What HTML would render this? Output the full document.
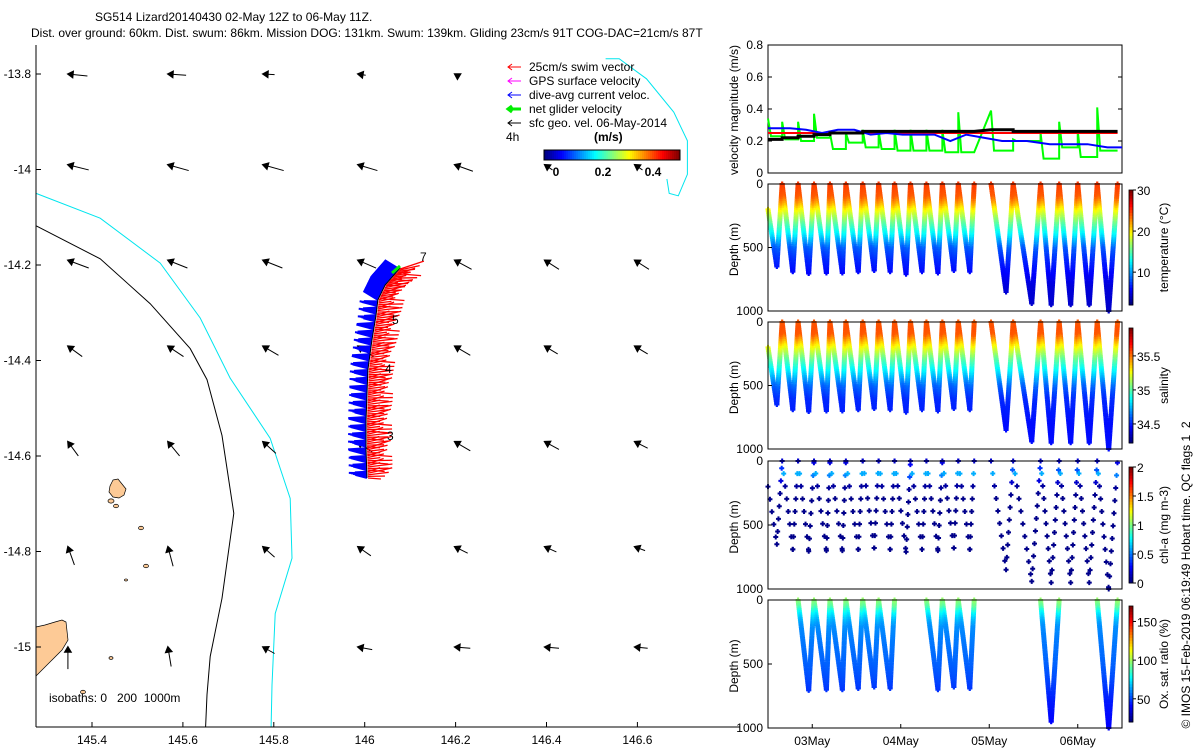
<!DOCTYPE html>
<html><head><meta charset="utf-8"><style>
html,body{margin:0;padding:0;background:#fff;}
svg{display:block;font-family:"Liberation Sans",sans-serif;}
</style></head><body>
<svg id="fig" width="1200" height="750" viewBox="0 0 1200 750">
<g id="map"></g>
<g id="right"></g>
</svg>
<script>
// ---------------- DATA ----------------
const mapLonTicks=[145.4,145.6,145.8,146,146.2,146.4,146.6];
const mapLatTicks=[-13.8,-14,-14.2,-14.4,-14.6,-14.8,-15];
const trackLon=[146.005,146.003,146.003,146.005,146.007,146.016,146.025,146.029,146.045,146.078];
const trackLat=[-14.646,-14.587,-14.525,-14.472,-14.420,-14.357,-14.305,-14.273,-14.242,-14.206];
const cyanLon=[145.277,145.418,145.55,145.638,145.704,145.792,145.836,145.840,145.803,145.796,145.794];
const cyanLat=[-14.05,-14.102,-14.196,-14.311,-14.437,-14.563,-14.689,-14.814,-14.930,-15.08,-15.17];
const blackLon=[145.277,145.418,145.528,145.616,145.653,145.686,145.712,145.686,145.660,145.653,145.650];
const blackLat=[-14.118,-14.187,-14.281,-14.375,-14.44,-14.557,-14.72,-14.898,-15.02,-15.10,-15.17];
const reefLon=[146.53,146.56,146.62,146.68,146.71,146.71,146.69,146.67,146.665];
const reefLat=[-13.768,-13.768,-13.81,-13.88,-13.94,-14.01,-14.055,-14.05,-14.02];
const arrowLon=[145.347,145.567,145.776,145.985,146.198,146.396,146.594];
const arrowLat=[-13.80,-13.99,-14.19,-14.37,-14.57,-14.79,-15.0];
const arrowU=[[-0.30,-0.28,-0.18,-0.12,-0.05,null,null],
 [-0.32,-0.32,-0.32,-0.30,-0.28,-0.12,-0.12],
 [-0.32,-0.30,-0.30,-0.28,-0.26,-0.22,-0.22],
 [-0.22,-0.24,-0.24,-0.24,-0.24,-0.20,-0.20],
 [-0.16,-0.18,-0.20,-0.22,-0.24,-0.22,-0.20],
 [-0.10,-0.08,-0.18,-0.20,-0.20,-0.18,-0.16],
 [0.0,-0.05,-0.18,-0.22,-0.24,-0.22,-0.20]];
const arrowV=[[0.03,0.02,0.01,0.02,0.03,null,null],
 [0.08,0.09,0.09,0.09,0.10,0.08,0.08],
 [0.12,0.12,0.12,0.12,0.14,0.14,0.14],
 [0.16,0.16,0.14,0.16,0.14,0.12,0.12],
 [0.22,0.22,0.18,0.16,0.14,0.12,0.10],
 [0.28,0.30,0.16,0.14,0.10,0.08,0.06],
 [0.34,0.30,0.10,0.04,0.02,0.02,0.02]];
// right panels
const dayTicks=["03May","04May","05May","06May"];
const diveStart=[0.00,0.16,0.34,0.52,0.70,0.88,1.07,1.25,1.43,1.61,1.79,1.97,2.15,2.52,2.77,3.08,3.29,3.50,3.72];
const diveBottom=[0.10,0.28,0.46,0.66,0.84,1.02,1.20,1.38,1.56,1.74,1.92,2.10,2.28,2.69,2.98,3.20,3.42,3.63,3.85];
const diveEnd=[0.16,0.34,0.52,0.70,0.88,1.07,1.25,1.43,1.61,1.79,1.97,2.15,2.33,2.77,3.08,3.29,3.50,3.72,3.95];
const diveDepth=[650,690,705,700,700,690,680,690,710,690,700,680,690,850,940,950,950,950,1000];
const oxDives=[2,3,4,5,6,7,10,11,12,15,18];
const profDepth=[0,50,100,150,200,300,400,500,600,800,1000];
const tempProf=[25,24.5,24,22,19.5,15.5,12,8,6.5,4.5,4];
const salProf=[35.55,35.57,35.55,35.4,35.25,35.0,34.8,34.6,34.5,34.45,34.45];
const chlProf=[0.15,0.3,0.6,0.2,0.05,0.02,0.02,0.02,0.02,0.02,0.02];
const oxProf=[98,90,75,66,60,57,55,53,50,42,38];
const velRed=[0.25,0.25,0.25,0.25,0.25,0.25,0.25,0.25,0.25,0.25,0.25,0.25,0.25,0.25,0.25,0.25,0.25,0.25,0.25];
const velBlack=[0.21,0.22,0.23,0.24,0.25,0.25,0.26,0.26,0.26,0.26,0.26,0.26,0.26,0.27,0.26,0.26,0.26,0.26,0.26];
const velBlue=[0.28,0.28,0.27,0.25,0.27,0.27,0.24,0.25,0.24,0.24,0.24,0.20,0.24,0.20,0.20,0.18,0.18,0.18,0.16];
const velGreen=[0.23,0.21,0.20,0.22,0.15,0.19,0.16,0.15,0.14,0.14,0.14,0.13,0.13,0.14,0.20,0.09,0.16,0.10,0.14];
const velGreenPeak=[0.34,0.32,0.32,0.37,0.25,0.25,0.27,0.26,0.27,0.27,0.27,0.27,0.38,0.39,0.21,0.25,0.32,0.26,0.41];
const velTicks=[0,0.2,0.4,0.6,0.8];
const depthTicks=[0,500,1000];

// ---------------- HELPERS ----------------
const NS="http://www.w3.org/2000/svg";
function mk(parent,tag,attrs,text){const e=document.createElementNS(NS,tag);for(const k in attrs)e.setAttribute(k,attrs[k]);if(text!==undefined)e.textContent=text;parent.appendChild(e);return e;}
function jet(t){t=Math.max(0,Math.min(1,t));const r=Math.max(0,Math.min(1,1.5-Math.abs(4*t-3))),g=Math.max(0,Math.min(1,1.5-Math.abs(4*t-2))),b=Math.max(0,Math.min(1,1.5-Math.abs(4*t-1)));return `rgb(${Math.round(r*255)},${Math.round(g*255)},${Math.round(b*255)})`;}
function interp(xs,ys,x){if(x<=xs[0])return ys[0];for(let i=1;i<xs.length;i++){if(x<=xs[i]){const f=(x-xs[i-1])/(xs[i]-xs[i-1]);return ys[i-1]+f*(ys[i]-ys[i-1]);}}return ys[ys.length-1];}
const mapG=document.getElementById('map'), rG=document.getElementById('right'), fig=document.getElementById('fig');
const lonX=l=>92+(l-145.4)*454.5;
const latY=l=>74+(-13.8-l)*477.5;

// ---------------- TITLE ----------------
let t=mk(fig,'text',{x:95,y:21,'font-size':12},'SG514 Lizard20140430 02-May 12Z to 06-May 11Z.');

t=mk(fig,'text',{x:31,y:37,'font-size':12},'Dist. over ground: 60km. Dist. swum: 86km. Mission DOG: 131km. Swum: 139km. Gliding 23cm/s 91T COG-DAC=21cm/s 87T');


// ---------------- MAP ----------------
let p=mk(mapG,'path',{d:'M36,627 L45,625 L55,622 L62,620 L66,622 L68,640 L62,650 L50,662 L40,672 L36,676 Z',fill:'#fdca96',stroke:'#000','stroke-width':0.7});

p=mk(mapG,'path',{d:'M113,480 L118,479 L122,484 L126,489 L124,495 L119,498 L113,497 L109,492 L110,486 Z',fill:'#fdca96',stroke:'#000','stroke-width':0.7});

[[111,501,3],[116,506,2.5],[141,528,2.5],[146,566,2.5],[126,580,1.5],[111,658,2],[83,692,2.5]].forEach(c=>{
 const e=mk(mapG,'ellipse',{cx:c[0],cy:c[1],rx:c[2],ry:c[2]*0.7,fill:'#fdca96',stroke:'#000','stroke-width':0.7});
 });
function polyline(lons,lats,color,name){const pts=lons.map((l,i)=>lonX(l).toFixed(1)+','+Math.min(727,latY(lats[i])).toFixed(1)).join(' ');
 const e=mk(mapG,'polyline',{points:pts,fill:'none',stroke:color,'stroke-width':1});}
polyline(cyanLon,cyanLat,'#00e5ee','isobath-200m');
polyline(blackLon,blackLat,'#000','isobath-1000m-black');
polyline(reefLon,reefLat,'#00e5ee','reef-isobath');
function drawArrow(g,hx,hy,tx,ty,col,hs,name){
 const l=mk(g,'line',{x1:hx,y1:hy,x2:tx,y2:ty,stroke:col,'stroke-width':1});
 
 const dx=hx-tx,dy=hy-ty,L=Math.hypot(dx,dy)||1,ux=dx/L,uy=dy/L;
 const pts=[[hx,hy],[hx-ux*hs-uy*hs*0.6,hy-uy*hs+ux*hs*0.6],[hx-ux*hs+uy*hs*0.6,hy-uy*hs-ux*hs*0.6]];
 const h=mk(g,'polygon',{points:pts.map(q=>q.join(',')).join(' '),fill:col,stroke:col,'stroke-width':1.5});
 }
for(let r=0;r<arrowLat.length;r++)for(let c=0;c<arrowLon.length;c++){
 const u=arrowU[r][c],v=arrowV[r][c];if(u===null)continue;
 const hx=lonX(arrowLon[c]),hy=latY(arrowLat[r]);
 drawArrow(mapG,hx,hy,hx-u*65,hy+v*65,'#000',5,'geo-velocity-arrow');}
// glider track vectors
const trk=[];for(let i=0;i<trackLon.length-1;i++){const x0=lonX(trackLon[i]),y0=latY(trackLat[i]),x1=lonX(trackLon[i+1]),y1=latY(trackLat[i+1]);const n=Math.ceil(Math.hypot(x1-x0,y1-y0)/1.6);for(let k=0;k<n;k++)trk.push([x0+(x1-x0)*k/n,y0+(y1-y0)*k/n]);}
const trkG=mk(mapG,'g',{});
trk.forEach((q,i)=>{const top=q[1]<300;const bl=top?17:12+(i%4)*2;const ang=top?-0.55:-0.1+((i%5)-2)*0.08;
 const b=mk(trkG,'line',{x1:q[0],y1:q[1],x2:q[0]-bl*Math.cos(ang),y2:q[1]+bl*Math.sin(ang),stroke:'#0000ff','stroke-width':2});
 });
trk.forEach((q,i)=>{const rl=13+(i%4)*4;const ang=0.12+((i%5)-2)*0.1;
 const r=mk(trkG,'line',{x1:q[0]+1,y1:q[1],x2:q[0]+1+rl*Math.cos(ang),y2:q[1]-rl*Math.sin(ang),stroke:'#ff0000','stroke-width':1.3});
 });
const tp=mk(trkG,'polyline',{points:trackLon.map((l,i)=>lonX(l)+','+latY(trackLat[i])).join(' '),fill:'none',stroke:'#000','stroke-width':1});

const gn=mk(trkG,'line',{x1:392,y1:273,x2:400,y2:266,stroke:'#00ee00','stroke-width':3});
[['7',420,261],['5',392,324],['4',385,373],['3',387,440]].forEach(d=>{const e=mk(mapG,'text',{x:d[1],y:d[2],'font-size':12},d[0]);});
let ax=mk(mapG,'line',{x1:36,y1:45,x2:36,y2:727,stroke:'#000'});
ax=mk(mapG,'line',{x1:36,y1:727,x2:740,y2:727,stroke:'#000'});
mapLonTicks.forEach(l=>{const x=lonX(l);const tk=mk(mapG,'line',{x1:x,y1:727,x2:x,y2:722,stroke:'#000'});
 const e=mk(mapG,'text',{x:x,y:744,'font-size':12,'text-anchor':'middle'},String(l));});
mapLatTicks.forEach(l=>{const y=latY(l);const tk=mk(mapG,'line',{x1:36,y1:y,x2:41,y2:y,stroke:'#000'});
 const e=mk(mapG,'text',{x:31,y:y+4,'font-size':12,'text-anchor':'end'},String(l));});
let iso=mk(mapG,'text',{x:49,y:702,'font-size':12},'isobaths: 0   200  1000m');iso.style.whiteSpace='pre';
const legItems=[['#ff0000','25cm/s swim vector',1],['#ff00ff','GPS surface velocity',1],['#0000ff','dive-avg current veloc.',1],['#00ee00','net glider velocity',3],['#000','sfc geo. vel. 06-May-2014',1]];
legItems.forEach((it,i)=>{const y=67+i*14;const g=mk(mapG,'g',{});
 mk(g,'line',{x1:508,y1:y,x2:521,y2:y,stroke:it[0],'stroke-width':it[2]});mk(g,'polyline',{points:`512,${y-3} 508,${y} 512,${y+3}`,fill:'none',stroke:it[0],'stroke-width':it[2]});
 mk(g,'text',{x:529,y:y+4,'font-size':12},it[1]);});
let e4=mk(mapG,'text',{x:506,y:141,'font-size':12},'4h');
let ems=mk(mapG,'text',{x:594,y:141,'font-size':12,'font-weight':'bold'},'(m/s)');
const cbg=mk(mapG,'g',{});
for(let i=0;i<68;i++)mk(cbg,'rect',{x:544+i*2,y:150,width:2.2,height:10,fill:jet(i/67)});
mk(cbg,'rect',{x:544,y:150,width:136,height:10,fill:'none',stroke:'#000'});
[['0',556],['0.2',603],['0.4',653]].forEach(d=>{const e=mk(mapG,'text',{x:d[1],y:176,'font-size':12,'font-weight':'bold','text-anchor':'middle'},d[0]);});

// ---------------- RIGHT PANELS ----------------
const X0=768,X1=1122;const dayX=d=>X0+d*88.5;
function frame(y0,y1,name){const r=mk(rG,'rect',{x:X0,y:y0,width:X1-X0,height:y1-y0,fill:'none',stroke:'#000'});}
function ylabel(txt,cy,x,name){const e=mk(rG,'text',{x:x,y:cy,'font-size':12,'text-anchor':'middle',transform:`rotate(-90 ${x} ${cy})`},txt);}
const vy0=45,vy1=173,vY=v=>vy1-v*160;
frame(vy0,vy1,'velocity-panel-frame');
velTicks.forEach(v=>{const y=vY(v);mk(rG,'line',{x1:X0,y1:y,x2:X0+4,y2:y,stroke:'#000'});mk(rG,'line',{x1:X1,y1:y,x2:X1-4,y2:y,stroke:'#000'});
 const e=mk(rG,'text',{x:763,y:y+4,'font-size':12,'text-anchor':'end'},String(v));});
ylabel('velocity magnitude (m/s)',110,738,'velocity-y-axis-title');
function stepLine(vals,col,w,name,peaks){let pts=[];for(let i=0;i<vals.length;i++){const xs=dayX(diveStart[i]),xe=dayX(diveEnd[i]);if(peaks){pts.push([xs,vY(peaks[i])]);pts.push([xs+3,vY(vals[i])]);}else pts.push([xs,vY(vals[i])]);pts.push([xe,vY(vals[i])]);}
 pts[pts.length-1][0]=Math.min(pts[pts.length-1][0],X1);
 const e=mk(rG,'polyline',{points:pts.map(q=>q.join(',')).join(' '),fill:'none',stroke:col,'stroke-width':w});}
stepLine(velGreen,'#00ff00',2,'net-velocity-line',velGreenPeak);
stepLine(velRed,'#ff0000',2,'swim-speed-line');
(function(){const pts=velBlue.map((v,i)=>[dayX((diveStart[i]+diveEnd[i])/2),vY(v)]);pts.unshift([X0,vY(velBlue[0])]);pts.push([X1,vY(velBlue[velBlue.length-1])]);
 const e=mk(rG,'polyline',{points:pts.map(q=>q.join(',')).join(' '),fill:'none',stroke:'#0000ff','stroke-width':2});})();
stepLine(velBlack,'#000',3,'geo-velocity-line');

const panels=[{y0:184,y1:311,prof:tempProf,min:2,max:30,ticks:[30,20,10],label:'temperature (°C)',name:'temperature',only:null,step:1},
 {y0:322,y1:449,prof:salProf,min:34.22,max:35.91,ticks:[35.5,35,34.5],label:'salinity',name:'salinity',only:null,step:1},
 {y0:461,y1:589,prof:chlProf,min:0,max:2,ticks:[2,1.5,1,0.5,0],label:'chl-a (mg m-3)',name:'chlorophyll',only:null,step:7},
 {y0:600,y1:728,prof:oxProf,min:20,max:170,ticks:[150,100,50],label:'Ox. sat. ratio (%)',name:'oxygen',only:oxDives,step:1}];
panels.forEach(P=>{const dY=d=>P.y0+d/1000*(P.y1-P.y0);
 const g=mk(rG,'g',{});
 for(let i=0;i<diveDepth.length;i++){if(P.only&&P.only.indexOf(i)<0)continue;
  const segs=[[diveStart[i],i===0?200:0,diveBottom[i],diveDepth[i]],[diveBottom[i],diveDepth[i],diveEnd[i],0]];
  segs.forEach(s=>{const n=Math.round(Math.abs(s[3]-s[1])/14);for(let k=0;k<=n;k+=P.step){const f=k/n;const d=s[1]+(s[3]-s[1])*f;const x=dayX(s[0]+(s[2]-s[0])*f);if(x>X1)continue;
   const val=interp(profDepth,P.prof,d);const c=jet((val-P.min)/(P.max-P.min));
   const y=dY(d);const m=mk(g,'path',{d:`M${x-2.5},${y}h5M${x},${y-2.5}v5`,stroke:c,'stroke-width':2});
   }});}
 frame(P.y0,P.y1,P.name+'-panel-frame');
 depthTicks.forEach(d=>{const y=dY(d);mk(rG,'line',{x1:X0,y1:y,x2:X0+4,y2:y,stroke:'#000'});
  const e=mk(rG,'text',{x:763,y:y+4,'font-size':12,'text-anchor':'end'},String(d));});
 ylabel('Depth (m)',(P.y0+P.y1)/2+2,738,'depth-axis-title');
 const cy0=P.y0+6,cy1=P.y1-6;const cb=mk(rG,'g',{});
 const N=40;for(let i=0;i<N;i++)mk(cb,'rect',{x:1129,y:cy0+(cy1-cy0)*i/N,width:4,height:(cy1-cy0)/N+0.5,fill:jet(1-i/(N-1))});
 mk(cb,'rect',{x:1129,y:cy0,width:4,height:cy1-cy0,fill:'none',stroke:'#000','stroke-width':0.8});
 P.ticks.forEach(tk=>{const y=cy1-(tk-P.min)/(P.max-P.min)*(cy1-cy0);mk(cb,'line',{x1:1133,y1:y,x2:1136,y2:y,stroke:'#000'});
  const e=mk(rG,'text',{x:1137,y:y+5,'font-size':12},String(tk));});
 ylabel(P.label,(P.y0+P.y1)/2,1168,P.name+'-colorbar-title');
});
dayTicks.forEach((d,i)=>{const x=dayX(0.5+i);mk(rG,'line',{x1:x,y1:728,x2:x,y2:724,stroke:'#000'});
 const e=mk(rG,'text',{x:x,y:745,'font-size':12,'text-anchor':'middle'},d);});
let cr=mk(rG,'text',{x:1190,y:575,'font-size':12,'text-anchor':'middle',transform:'rotate(-90 1190 575)'},'© IMOS 15-Feb-2019 06:19:49 Hobart time. QC flags 1  2');
cr.style.whiteSpace='pre';
</script>
</body></html>
